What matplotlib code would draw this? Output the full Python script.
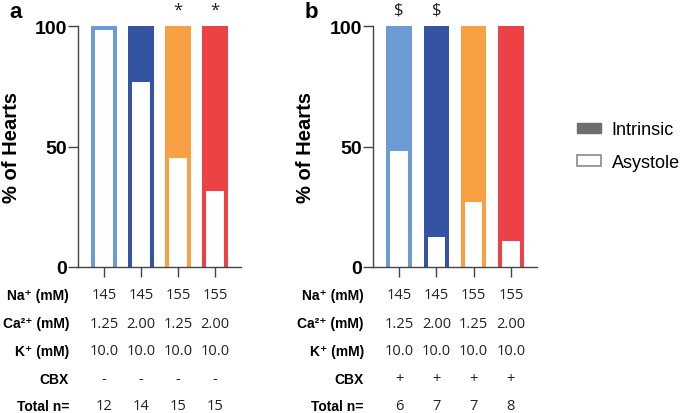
import numpy as np
import matplotlib
matplotlib.use("Agg")
import matplotlib.pyplot as plt
from matplotlib.patches import Patch
from matplotlib.transforms import blended_transform_factory

plt.rcParams['font.family'] = ['Liberation Sans', 'DejaVu Sans']

# data
colors = ["#6A9BD3", "#3553A3", "#F8A044", "#EE4146"]
asystole_a = [100.0, 78.6, 46.7, 33.3]   # % of hearts, panel a
asystole_b = [50.0, 14.3, 28.6, 12.5]    # % of hearts, panel b
na = ["145", "145", "155", "155"]
ca = ["1.25", "2.00", "1.25", "2.00"]
k = ["10.0", "10.0", "10.0", "10.0"]
cbx_a = ["-", "-", "-", "-"]
cbx_b = ["+", "+", "+", "+"]
n_a = ["12", "14", "15", "15"]
n_b = ["6", "7", "7", "8"]
marks_a = ["", "", "*", "*"]
marks_b = ["$", "$", "", ""]

row_labels = ["Na⁺ (mM)", "Ca²⁺ (mM)", "K⁺ (mM)", "CBX", "Total n="]
row_y = [1 - 296/414, 1 - 324/414, 1 - 352/414, 1 - 380/414, 1 - 407/414]

fig = plt.figure(figsize=(6.85, 4.14), dpi=100)
ax_a = fig.add_axes([78/685, 1 - 268/414, 163/685, 241/414])
ax_b = fig.add_axes([373/685, 1 - 268/414, 164/685, 241/414])

x = np.arange(4)
w = 0.68
pad = 4  # white bars start below the axis so no bottom border shows


def draw_panel(ax, asy, rows, marks, letter, lx):
    full = ax.bar(x, [100] * 4, width=w, color=colors, linewidth=0,
                  clip_on=False, zorder=1)
    white = ax.bar(x, np.array(asy) + pad, bottom=-pad, width=w, color="white",
                   edgecolor=colors, linewidth=5.8, zorder=2)
    for c, wp in zip(full.patches, white.patches):
        wp.set_clip_path(c)
    ax.set_xlim(-0.70, 3.70)
    ax.set_ylim(0, 100)
    ax.set_yticks([0, 50, 100])
    ax.set_xticks(x)
    ax.set_xticklabels([])
    for lab in ax.get_yticklabels():
        lab.set_fontweight("bold")
        lab.set_fontsize(14)
    ax.tick_params(axis="y", length=7, width=1, color="#444444", pad=1)
    ax.tick_params(axis="x", length=7, width=1, color="#444444")
    for s in ["top", "right"]:
        ax.spines[s].set_visible(False)
    for s in ["left", "bottom"]:
        ax.spines[s].set_linewidth(1)
        ax.spines[s].set_color("#444444")
    ax.set_ylabel("% of Hearts", fontsize=14.5, fontweight="bold")
    ax.yaxis.set_label_coords(lx, 0.5)

    tr = blended_transform_factory(ax.transData, fig.transFigure)
    tl = blended_transform_factory(ax.transAxes, fig.transFigure)
    for lab, yy, vals in zip(row_labels, row_y, rows):
        fig.text(-0.055, yy, lab, transform=tl, ha="right", va="center",
                 fontsize=10, fontweight="bold")
        for xi, v in zip(x, vals):
            fig.text(xi, yy, v, transform=tr, ha="center", va="center",
                     fontsize=10.5, family="Open Sans", color="#222222")
    for xi, m in zip(x, marks):
        if m:
            txt = "\\$" if m == "$" else m
            fig.text(xi, 1 - 11/414, txt, transform=tr, ha="center",
                     va="center", fontsize=12, color="#222222",
                     family="Open Sans")
    fig.text(-0.42, 1 - 12/414, letter, transform=tl, ha="left",
             va="center", fontsize=16, fontweight="bold")


draw_panel(ax_a, asystole_a, [na, ca, k, cbx_a, n_a], marks_a, "a", -0.35)
draw_panel(ax_b, asystole_b, [na, ca, k, cbx_b, n_b], marks_b, "b", -0.354)

handles = [Patch(facecolor="#6E6E6E", edgecolor="#6E6E6E", label="Intrinsic"),
           Patch(facecolor="white", edgecolor="#8A8A8A", linewidth=1.2,
                 label="Asystole")]
fig.legend(handles=handles, loc="center left", bbox_to_anchor=(570/685, 1 - 147/414),
           frameon=False, fontsize=13, handlelength=1.3, handleheight=0.55,
           labelspacing=0.85, handletextpad=0.6, borderaxespad=0)

fig.savefig("out.png", dpi=100)
